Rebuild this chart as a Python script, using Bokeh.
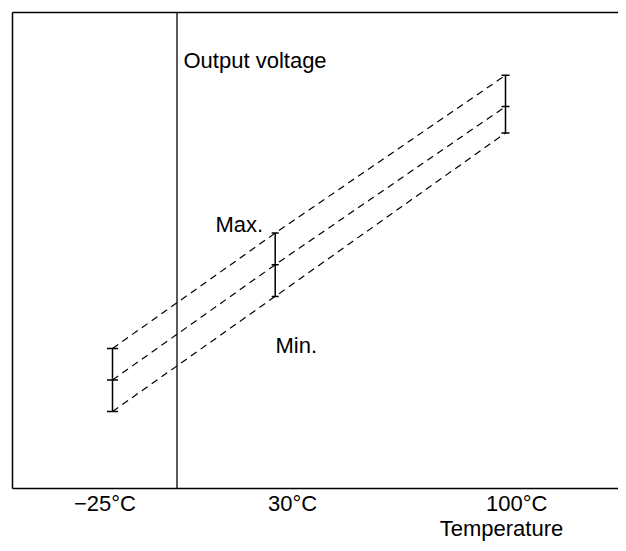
from bokeh.plotting import figure
from bokeh.models import Range1d, LinearAxis, FixedTicker, Span
from bokeh.core.properties import value
from bokeh.embed import file_html
from bokeh.resources import INLINE

# ---- data (schematic units) ----
temp_labels = ["\u221225\u00b0C", "30\u00b0C", "100\u00b0C"]
tick_pos = [92.5, 280, 489]          # where the temperature labels sit
axis_title = "Temperature"
bar_pos = [100, 262.7, 493]          # where the tolerance bars sit
v_max = [140, 255.4, 413.2]
v_typ = [108.5, 223.8, 381.9]
v_min = [77, 192.1, 355.5]
zero_axis_pos = 164.5                # vertical "Output voltage" axis

FONT = "Liberation Sans"
FS = "22px"

p = figure(width=618, height=543, output_backend="svg", toolbar_location=None,
           x_axis_type=None, y_axis_type=None,
           x_range=Range1d(0, 606), y_range=Range1d(0, 476),
           min_border_left=12, min_border_right=0, min_border_top=12, min_border_bottom=55)
p.outline_line_color = None
p.xgrid.visible = False
p.ygrid.visible = False
p.background_fill_color = "white"
p.border_fill_color = "white"

def frame_axis(ax):
    ax.ticker = FixedTicker(ticks=[])
    ax.major_tick_out = 0
    ax.major_tick_in = 0
    ax.minor_tick_out = 0
    ax.minor_tick_in = 0
    ax.major_label_standoff = 0
    ax.axis_line_color = "black"
    ax.axis_line_width = 1.5
    return ax

p.add_layout(frame_axis(LinearAxis()), "left")
p.add_layout(frame_axis(LinearAxis()), "above")

labels = list(temp_labels)
# last label carries the axis title on a second line; the temperature sits a little right of it
labels[-1] = "\u00a0" * 5 + labels[-1] + "\n" + axis_title

xb = LinearAxis(ticker=FixedTicker(ticks=tick_pos))
xb.major_label_overrides = {t: s for t, s in zip(tick_pos, labels)}
xb.major_tick_out = 0
xb.major_tick_in = 0
xb.minor_tick_out = 0
xb.minor_tick_in = 0
xb.major_label_standoff = 2
xb.major_label_text_font = FONT
xb.major_label_text_font_size = FS
xb.major_label_text_color = "black"
xb.major_label_text_line_height = 1.0
xb.axis_line_color = "black"
xb.axis_line_width = 1.5
p.add_layout(xb, "below")

# vertical output-voltage axis
p.add_layout(Span(location=zero_axis_pos, dimension="height",
                  line_color="black", line_width=1.3))

# dashed max / typ / min lines
for vals in (v_max, v_typ, v_min):
    p.line(bar_pos, vals, line_color="black", line_width=1.2, line_dash="7 5")

# tolerance bars
p.segment(x0=bar_pos, y0=v_min, x1=bar_pos, y1=v_max, line_color="black", line_width=1.5)
cap_sizes = [11, 7, 8]
for vals in (v_min, v_typ, v_max):
    p.dash(bar_pos, vals, size=cap_sizes, angle=0, line_color="black", line_width=1.5)

# texts
p.text(x=[171], y=[428.5], text=["Output voltage"], text_font=value(FONT),
       text_font_size=FS, text_baseline="alphabetic", text_align="left", text_color="black")
p.text(x=[203], y=[264], text=["Max."], text_font=value(FONT),
       text_font_size=FS, text_baseline="alphabetic", text_align="left", text_color="black")
p.text(x=[263], y=[143], text=["Min."], text_font=value(FONT),
       text_font_size=FS, text_baseline="alphabetic", text_align="left", text_color="black")

open("out.html", "w").write(file_html(p, INLINE))
